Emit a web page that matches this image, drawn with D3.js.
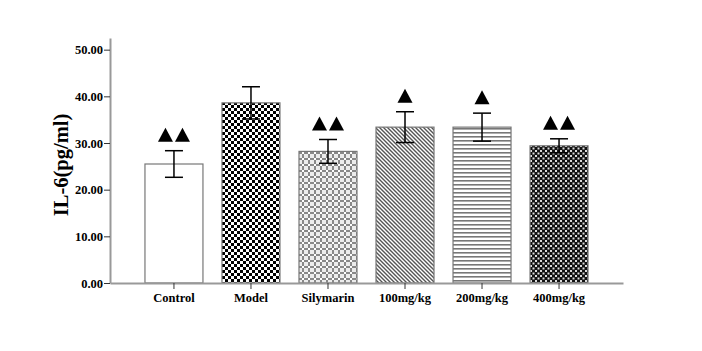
<!DOCTYPE html>
<html><head><meta charset="utf-8">
<script src="https://cdn.jsdelivr.net/npm/d3@7"></script>
<style>body{margin:0;background:#fff}svg{display:block}</style>
</head><body>
<svg id="c" width="702" height="351"></svg>
<script>
const categories = ["Control","Model","Silymarin","100mg/kg","200mg/kg","400mg/kg"];
const means = [25.5, 38.6, 28.2, 33.4, 33.4, 29.4];
const errors = [2.85, 3.45, 2.55, 3.3, 3.0, 1.5];
const markCounts = [2, 0, 2, 1, 1, 2];
const patterns = ["none","checker","cross","diag","horiz","dots"];
const yTicks = [0,10,20,30,40,50];
const yLabel = "IL-6(pg/ml)";

const svg = d3.select("#c");
const font = "'Liberation Serif','Times New Roman',serif";
const x = d3.scaleBand().domain(categories).range([110,623]).paddingInner(0.247).paddingOuter(0.454);
const y = d3.scaleLinear().domain([0,52.5]).range([283,38]);

// patterns
const defs = svg.append("defs");
let p = defs.append("pattern").attr("id","checker").attr("patternUnits","userSpaceOnUse").attr("width",6).attr("height",6);
p.append("rect").attr("width",6).attr("height",6).attr("fill","#fff");
p.append("rect").attr("width",3).attr("height",3).attr("fill","#000");
p.append("rect").attr("x",3).attr("y",3).attr("width",3).attr("height",3).attr("fill","#000");

p = defs.append("pattern").attr("id","cross").attr("patternUnits","userSpaceOnUse").attr("width",6).attr("height",6);
p.append("rect").attr("width",6).attr("height",6).attr("fill","#ececec");
p.append("rect").attr("x",2).attr("y",0).attr("width",2).attr("height",6).attr("fill","#888");
p.append("rect").attr("x",0).attr("y",2).attr("width",6).attr("height",2).attr("fill","#888");
p.append("rect").attr("x",2).attr("y",2).attr("width",2).attr("height",2).attr("fill","#fff");

p = defs.append("pattern").attr("id","diag").attr("patternUnits","userSpaceOnUse").attr("width",4).attr("height",4);
p.append("rect").attr("width",4).attr("height",4).attr("fill","#fff");
p.append("path").attr("d","M-1,-1 L5,5 M-1,3 L1,5 M3,-1 L5,1").attr("stroke","#555").attr("stroke-width",1.4);

p = defs.append("pattern").attr("id","horiz").attr("patternUnits","userSpaceOnUse").attr("width",4).attr("height",4);
p.append("rect").attr("width",4).attr("height",4).attr("fill","#fff");
p.append("rect").attr("y",0).attr("width",4).attr("height",1.6).attr("fill","#777");

p = defs.append("pattern").attr("id","dots").attr("patternUnits","userSpaceOnUse").attr("width",5).attr("height",5);
p.append("rect").attr("width",5).attr("height",5).attr("fill","#111");
p.append("rect").attr("x",0).attr("y",0).attr("width",2).attr("height",2).attr("fill","#ddd");
p.append("rect").attr("x",2.5).attr("y",2.5).attr("width",2).attr("height",2).attr("fill","#ddd");

const data = categories.map((c,i)=>({c, m:means[i], e:errors[i], k:markCounts[i], p:patterns[i]}));

// bars
svg.append("g").selectAll("rect").data(data).join("rect")
  .attr("x", d=>x(d.c)).attr("width", x.bandwidth())
  .attr("y", d=>y(d.m)).attr("height", d=>y(0)-y(d.m))
  .attr("fill", d=>d.p==="none"?"#fff":`url(#${d.p})`)
  .attr("stroke","#777").attr("stroke-width",1.2);

// error bars
const eb = svg.append("g").attr("stroke","#000").attr("stroke-width",1.5);
data.forEach(d=>{
  const cx = x(d.c)+x.bandwidth()/2;
  eb.append("line").attr("x1",cx).attr("x2",cx).attr("y1",y(d.m+d.e)).attr("y2",y(d.m-d.e));
  eb.append("line").attr("x1",cx-9).attr("x2",cx+9).attr("y1",y(d.m+d.e)).attr("y2",y(d.m+d.e));
  eb.append("line").attr("x1",cx-9).attr("x2",cx+9).attr("y1",y(d.m-d.e)).attr("y2",y(d.m-d.e));
});

// significance triangles
const tg = svg.append("g").attr("fill","#000");
data.forEach(d=>{
  const cx = x(d.c)+x.bandwidth()/2;
  const base = y(d.m+d.e)-9;
  const offs = d.k===2?[-8.5,8.5]:d.k===1?[0]:[];
  offs.forEach(o=>{
    tg.append("path").attr("d",`M${cx+o-7.5},${base} L${cx+o+7.5},${base} L${cx+o},${base-14} Z`);
  });
});

// axes
const ya = svg.append("g").attr("transform","translate(110,0)")
  .call(d3.axisLeft(y).tickValues(yTicks).tickFormat(d3.format(".2f")).tickSize(6).tickSizeOuter(0));
ya.select(".domain").attr("stroke","#999").attr("stroke-width",2);
ya.selectAll(".tick line").attr("stroke","#333");
ya.selectAll(".tick text").attr("font-family",font).attr("font-weight","bold").attr("font-size",12.5).attr("fill","#000").attr("x",-7);

const xa = svg.append("g").attr("transform","translate(0,283)")
  .call(d3.axisBottom(x).tickSize(6).tickSizeOuter(0));
xa.select(".domain").attr("stroke","#999").attr("stroke-width",2);
xa.selectAll(".tick line").attr("stroke","#333");
xa.selectAll(".tick text").attr("font-family",font).attr("font-weight","bold").attr("font-size",12.5).attr("fill","#000").attr("y",10);

svg.append("text").attr("transform","translate(68,165) rotate(-90)")
  .attr("text-anchor","middle").attr("font-family",font).attr("font-weight","bold").attr("font-size",20.5)
  .text(yLabel);
</script>
</body></html>
